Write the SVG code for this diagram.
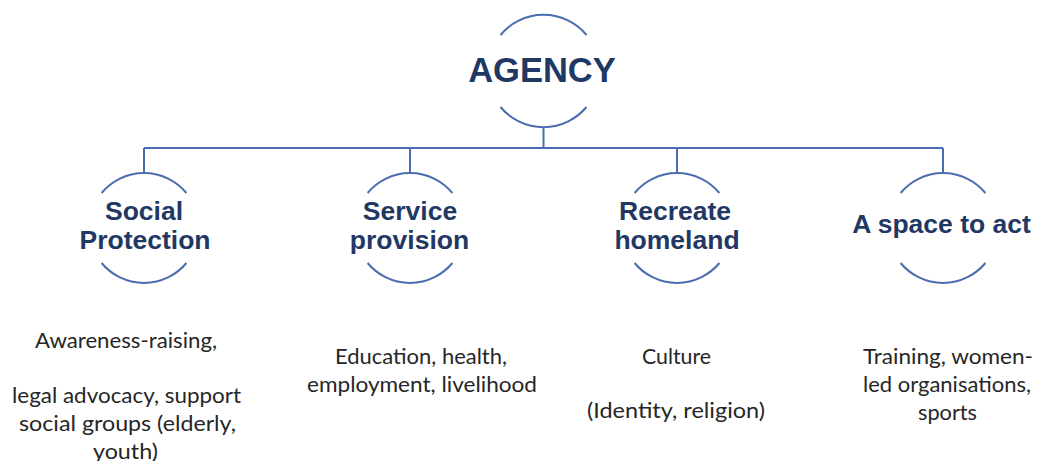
<svg xmlns="http://www.w3.org/2000/svg" width="1040" height="461" viewBox="0 0 1040 461">
  <style>
    .ring { fill: none; stroke: #4a6cb0; stroke-width: 2; }
    .wire { fill: none; stroke: #4a6cb0; stroke-width: 2; }
    .head { font-family: "Liberation Sans", Arial, sans-serif; font-weight: bold; fill: #1f3864; text-anchor: middle; }
    .root { font-size: 34.5px; }
    .sub { font-size: 26.5px; }
    .note { font-family: Lato, "Open Sans", sans-serif; font-size: 21px; fill: #262626; text-anchor: middle; }
  </style>
  <rect width="1040" height="461" fill="#ffffff"/>

  <!-- tree connectors -->
  <g id="connectors">
    <path class="wire" d="M543.5 127 V148"/>
    <path class="wire" d="M144 148 H943"/>
    <path class="wire" d="M144 148 V173"/>
    <path class="wire" d="M410 148 V173"/>
    <path class="wire" d="M677 148 V173"/>
    <path class="wire" d="M943 148 V173"/>
  </g>

  <!-- root -->
  <g id="agency">
    <path class="ring" d="M500.5 35 A56 56 0 0 1 586.5 35"/>
    <path class="ring" d="M500.5 107 A56 56 0 0 0 586.5 107"/>
    <text class="head root" x="542" y="82">AGENCY</text>
  </g>

  <!-- branches -->
  <g id="social-protection">
    <path class="ring" d="M101.6 193 A55 55 0 0 1 186.4 193"/>
    <path class="ring" d="M101.6 263 A55 55 0 0 0 186.4 263"/>
    <text class="head sub" x="144" y="220">Social</text>
    <text class="head sub" x="145" y="249">Protection</text>
    <text class="note" x="126" y="348" textLength="182" lengthAdjust="spacingAndGlyphs">Awareness-raising,</text>
    <text class="note" x="126.5" y="403" textLength="229" lengthAdjust="spacingAndGlyphs">legal advocacy, support</text>
    <text class="note" x="127.5" y="431" textLength="217" lengthAdjust="spacingAndGlyphs">social groups (elderly,</text>
    <text class="note" x="125.5" y="459" textLength="65" lengthAdjust="spacingAndGlyphs">youth)</text>
  </g>

  <g id="service-provision">
    <path class="ring" d="M367.6 193 A55 55 0 0 1 452.4 193"/>
    <path class="ring" d="M367.6 263 A55 55 0 0 0 452.4 263"/>
    <text class="head sub" x="410" y="220">Service</text>
    <text class="head sub" x="409.5" y="249">provision</text>
    <text class="note" x="421" y="364" textLength="172" lengthAdjust="spacingAndGlyphs">Education, health,</text>
    <text class="note" x="422" y="392" textLength="230" lengthAdjust="spacingAndGlyphs">employment, livelihood</text>
  </g>

  <g id="recreate-homeland">
    <path class="ring" d="M634.6 193 A55 55 0 0 1 719.4 193"/>
    <path class="ring" d="M634.6 263 A55 55 0 0 0 719.4 263"/>
    <text class="head sub" x="675" y="220">Recreate</text>
    <text class="head sub" x="677" y="249">homeland</text>
    <text class="note" x="676.5" y="364" textLength="69" lengthAdjust="spacingAndGlyphs">Culture</text>
    <text class="note" x="676" y="418" textLength="178" lengthAdjust="spacingAndGlyphs">(Identity, religion)</text>
  </g>

  <g id="space-to-act">
    <path class="ring" d="M900.6 193 A55 55 0 0 1 985.4 193"/>
    <path class="ring" d="M900.6 263 A55 55 0 0 0 985.4 263"/>
    <text class="head sub" x="941.5" y="233">A space to act</text>
    <text class="note" x="948" y="364" textLength="170" lengthAdjust="spacingAndGlyphs">Training, women-</text>
    <text class="note" x="947" y="392" textLength="168" lengthAdjust="spacingAndGlyphs">led organisations,</text>
    <text class="note" x="947.5" y="420" textLength="59" lengthAdjust="spacingAndGlyphs">sports</text>
  </g>
</svg>
